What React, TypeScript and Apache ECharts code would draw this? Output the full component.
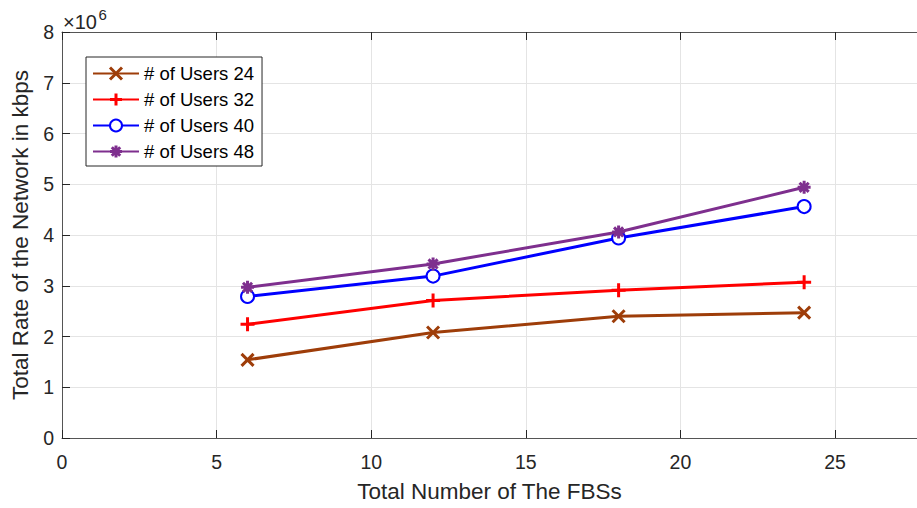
import React, { useEffect, useRef } from "react";
import * as echarts from "echarts";

// Number of femto base stations on the x axis
const fbsCounts = [6, 12, 18, 24];

// Total network rate (×10^6 kbps) for each user count
const users24 = [1.54, 2.08, 2.4, 2.47];
const users32 = [2.24, 2.71, 2.91, 3.07];
const users40 = [2.79, 3.19, 3.94, 4.56];
const users48 = [2.97, 3.43, 4.06, 4.94];

const seriesNames = ["# of Users 24", "# of Users 32", "# of Users 40", "# of Users 48"];
const seriesColors = ["#9E3D09", "#FF0000", "#0000FF", "#7E2F8E"];

const yTicks = [0, 1, 2, 3, 4, 5, 6, 7, 8];

const FONT = "Liberation Sans, Arial, Helvetica, sans-serif";

const SYM_X = "path://M0,0L10,10M10,0L0,10";
const SYM_PLUS = "path://M5,0L5,10M0,5L10,5";
const SYM_STAR = "path://M5,0L5,10M0,5L10,5M1.5,1.5L8.5,8.5M8.5,1.5L1.5,8.5";

export default function App() {
  const ref = useRef<HTMLDivElement>(null);

  useEffect(() => {
    if (!ref.current) return;
    const chart = echarts.init(ref.current, null, { renderer: "svg" });

    const seriesData = [users24, users32, users40, users48];
    const symbols = [SYM_X, SYM_PLUS, "emptyCircle", SYM_STAR];
    const sizes = [12, 14, 13, 13];

    const axisLine = { show: true, lineStyle: { color: "#555555", width: 1 } };
    const axisTick = { show: true, inside: true, length: 8, lineStyle: { color: "#262626", width: 1 } };
    const splitLine = { show: true, lineStyle: { color: "#e4e4e4", width: 1 } };
    const xFormatter = (v: number) => (v % 5 === 0 ? String(v) : "");

    chart.setOption({
      animation: false,
      backgroundColor: "#ffffff",
      textStyle: { fontFamily: FONT },
      grid: { left: 62, right: 0, top: 32, bottom: 66.5, containLabel: false },
      legend: {
        orient: "vertical",
        left: 86,
        top: 57,
        padding: [7, 8, 5, 6],
        itemWidth: 46,
        itemHeight: 15,
        itemGap: 7,
        backgroundColor: "#ffffff",
        borderColor: "#262626",
        borderWidth: 1,
        borderRadius: 0,
        textStyle: { fontFamily: FONT, fontSize: 18.5, color: "#000000" },
        itemStyle: { borderWidth: 3 },
        data: seriesNames,
      },
      xAxis: [
        {
          type: "value",
          min: 0,
          max: 27.65,
          interval: 5,
          position: "bottom",
          axisLine,
          axisTick,
          splitLine,
          axisLabel: {
            show: true,
            formatter: xFormatter,
            showMaxLabel: false,
            margin: 14,
            fontSize: 19.5,
            color: "#262626",
            fontFamily: FONT,
          },
          name: "Total Number of The FBSs",
          nameLocation: "middle",
          nameGap: 42,
          nameTextStyle: { fontSize: 22.5, color: "#262626", fontFamily: FONT },
        },
        {
          type: "value",
          min: 0,
          max: 27.65,
          interval: 5,
          position: "top",
          axisLine,
          axisTick,
          splitLine: { show: false },
          axisLabel: { show: false },
        },
      ],
      yAxis: {
        type: "value",
        min: yTicks[0],
        max: yTicks[yTicks.length - 1],
        interval: 1,
        axisLine,
        axisTick,
        splitLine,
        axisLabel: { margin: 8, fontSize: 19.5, color: "#262626", fontFamily: FONT },
        name: "Total Rate of the Network in kbps",
        nameLocation: "middle",
        nameRotate: 90,
        nameGap: 30,
        nameTextStyle: { fontSize: 22.5, color: "#262626", fontFamily: FONT },
      },
      graphic: [
        {
          type: "text",
          x: 63,
          y: 21.5,
          style: { text: "×10", fontSize: 20, fontFamily: FONT, fill: "#262626", textVerticalAlign: "middle" },
        },
        {
          type: "text",
          x: 98.5,
          y: 14.5,
          style: { text: "6", fontSize: 15, fontFamily: FONT, fill: "#262626", textVerticalAlign: "middle" },
        },
      ],
      series: seriesNames.map((name, i) => ({
        name,
        type: "line",
        data: fbsCounts.map((x, j) => [x, seriesData[i][j]]),
        symbol: symbols[i],
        symbolSize: sizes[i],
        showAllSymbol: true,
        lineStyle: { color: seriesColors[i], width: 3 },
        itemStyle: { color: seriesColors[i], borderColor: seriesColors[i], borderWidth: 3 },
        emphasis: { disabled: true },
        z: 3 + i,
      })),
    });

    return () => chart.dispose();
  }, []);

  return (
    <div
      ref={ref}
      style={{ position: "fixed", left: 0, top: 0, width: 917, height: 508 }}
    />
  );
}
